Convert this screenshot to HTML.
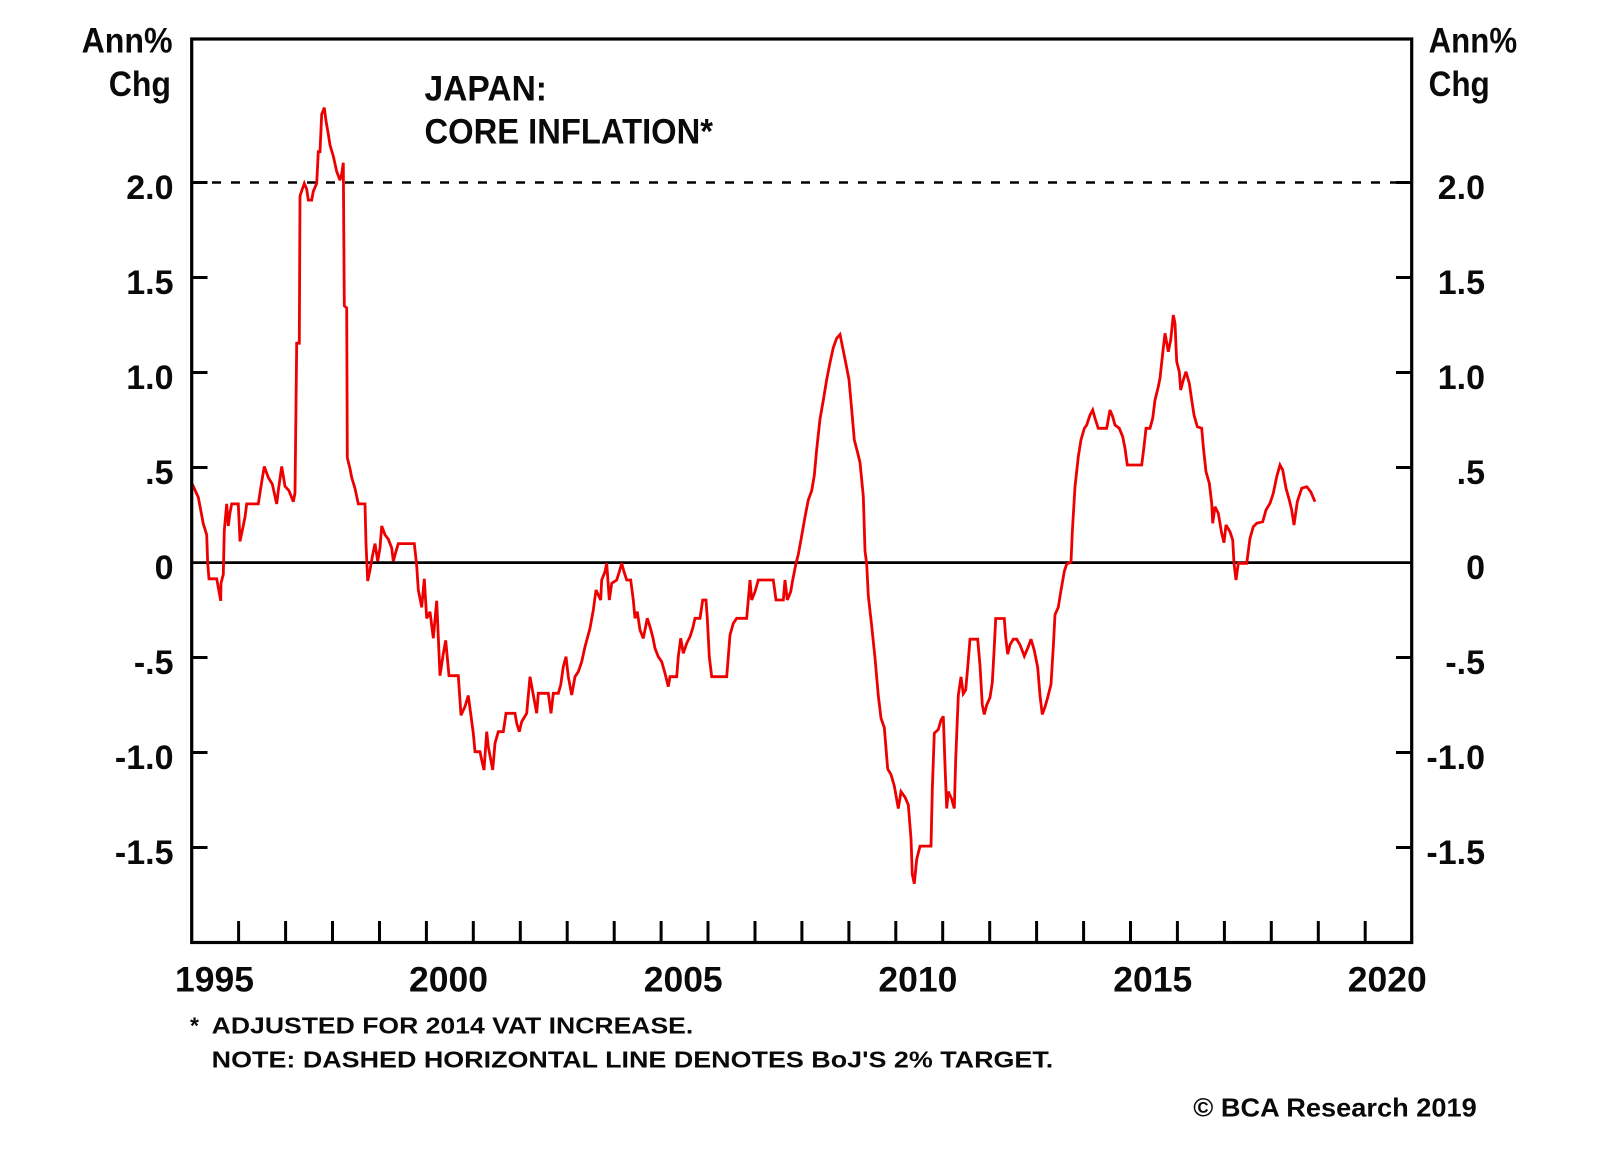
<!DOCTYPE html>
<html>
<head>
<meta charset="utf-8">
<style>
html,body{margin:0;padding:0;background:#fff;}
svg{display:block;}
text{font-family:"Liberation Sans",Arial,sans-serif;fill:#0a0a0a;}
.b{font-weight:bold;}
</style>
</head>
<body>
<svg width="1600" height="1152" viewBox="0 0 1600 1152" xmlns="http://www.w3.org/2000/svg">
<rect x="0" y="0" width="1600" height="1152" fill="#fff"/>

<!-- axis unit labels -->
<text class="b" x="81.6" y="52.5" font-size="35" textLength="91" lengthAdjust="spacingAndGlyphs">Ann%</text>
<text class="b" x="108.7" y="96" font-size="35" textLength="62.3" lengthAdjust="spacingAndGlyphs">Chg</text>
<text class="b" x="1428.6" y="52.5" font-size="35" textLength="88.5" lengthAdjust="spacingAndGlyphs">Ann%</text>
<text class="b" x="1428.6" y="96" font-size="35" textLength="61.2" lengthAdjust="spacingAndGlyphs">Chg</text>

<!-- title -->
<text class="b" x="424.5" y="100.4" font-size="35" textLength="122.5" lengthAdjust="spacingAndGlyphs">JAPAN:</text>
<text class="b" x="424.5" y="143.7" font-size="35" textLength="288.5" lengthAdjust="spacingAndGlyphs">CORE INFLATION*</text>

<!-- left tick labels -->
<g class="b" font-size="34" text-anchor="end">
<text x="173.5" y="199">2.0</text>
<text x="173.5" y="294">1.5</text>
<text x="173.5" y="389">1.0</text>
<text x="173.5" y="484">.5</text>
<text x="173.5" y="579">0</text>
<text x="173.5" y="674">-.5</text>
<text x="173.5" y="769">-1.0</text>
<text x="173.5" y="864">-1.5</text>
</g>
<!-- right tick labels -->
<g class="b" font-size="34" text-anchor="end">
<text x="1485" y="199">2.0</text>
<text x="1485" y="294">1.5</text>
<text x="1485" y="389">1.0</text>
<text x="1485" y="484">.5</text>
<text x="1485" y="579">0</text>
<text x="1485" y="674">-.5</text>
<text x="1485" y="769">-1.0</text>
<text x="1485" y="864">-1.5</text>
</g>

<!-- year labels -->
<g class="b" font-size="35.5" text-anchor="middle">
<text x="214.5" y="991.7">1995</text>
<text x="448.5" y="991.7">2000</text>
<text x="683.2" y="991.7">2005</text>
<text x="917.9" y="991.7">2010</text>
<text x="1152.8" y="991.7">2015</text>
<text x="1387.3" y="991.7">2020</text>
</g>

<!-- footnotes -->
<text class="b" x="190" y="1033.3" font-size="23">*</text>
<text class="b" x="211.7" y="1033.3" font-size="23" textLength="481.6" lengthAdjust="spacingAndGlyphs">ADJUSTED FOR 2014 VAT INCREASE.</text>
<text class="b" x="211.7" y="1067.7" font-size="23" textLength="841.6" lengthAdjust="spacingAndGlyphs">NOTE: DASHED HORIZONTAL LINE DENOTES BoJ'S 2% TARGET.</text>
<text class="b" x="1193.3" y="1116.7" font-size="26" textLength="283.4" lengthAdjust="spacingAndGlyphs">© BCA Research 2019</text>

<!-- dashed 2% line -->
<line x1="193" y1="182.5" x2="1410" y2="182.5" stroke="#000" stroke-width="2.5" stroke-dasharray="9 10"/>
<!-- zero line -->
<line x1="191.7" y1="562.6" x2="1411.7" y2="562.6" stroke="#000" stroke-width="2.8"/>

<!-- y ticks -->
<g stroke="#000" stroke-width="3">
<line x1="191.7" y1="182.5" x2="207.5" y2="182.5"/>
<line x1="191.7" y1="277.5" x2="207.5" y2="277.5"/>
<line x1="191.7" y1="372.5" x2="207.5" y2="372.5"/>
<line x1="191.7" y1="467.5" x2="207.5" y2="467.5"/>
<line x1="191.7" y1="657.5" x2="207.5" y2="657.5"/>
<line x1="191.7" y1="752.5" x2="207.5" y2="752.5"/>
<line x1="191.7" y1="847.5" x2="207.5" y2="847.5"/>
<line x1="1396" y1="182.5" x2="1411.7" y2="182.5"/>
<line x1="1396" y1="277.5" x2="1411.7" y2="277.5"/>
<line x1="1396" y1="372.5" x2="1411.7" y2="372.5"/>
<line x1="1396" y1="467.5" x2="1411.7" y2="467.5"/>
<line x1="1396" y1="657.5" x2="1411.7" y2="657.5"/>
<line x1="1396" y1="752.5" x2="1411.7" y2="752.5"/>
<line x1="1396" y1="847.5" x2="1411.7" y2="847.5"/>
</g>
<!-- x ticks -->
<g stroke="#000" stroke-width="3">
<line x1="238.6" y1="921" x2="238.6" y2="942.5"/>
<line x1="285.6" y1="921" x2="285.6" y2="942.5"/>
<line x1="332.5" y1="921" x2="332.5" y2="942.5"/>
<line x1="379.5" y1="921" x2="379.5" y2="942.5"/>
<line x1="426.4" y1="921" x2="426.4" y2="942.5"/>
<line x1="473.3" y1="921" x2="473.3" y2="942.5"/>
<line x1="520.3" y1="921" x2="520.3" y2="942.5"/>
<line x1="567.2" y1="921" x2="567.2" y2="942.5"/>
<line x1="614.2" y1="921" x2="614.2" y2="942.5"/>
<line x1="661.1" y1="921" x2="661.1" y2="942.5"/>
<line x1="708.0" y1="921" x2="708.0" y2="942.5"/>
<line x1="755.0" y1="921" x2="755.0" y2="942.5"/>
<line x1="801.9" y1="921" x2="801.9" y2="942.5"/>
<line x1="848.9" y1="921" x2="848.9" y2="942.5"/>
<line x1="895.8" y1="921" x2="895.8" y2="942.5"/>
<line x1="942.7" y1="921" x2="942.7" y2="942.5"/>
<line x1="989.7" y1="921" x2="989.7" y2="942.5"/>
<line x1="1036.6" y1="921" x2="1036.6" y2="942.5"/>
<line x1="1083.6" y1="921" x2="1083.6" y2="942.5"/>
<line x1="1130.5" y1="921" x2="1130.5" y2="942.5"/>
<line x1="1177.4" y1="921" x2="1177.4" y2="942.5"/>
<line x1="1224.4" y1="921" x2="1224.4" y2="942.5"/>
<line x1="1271.3" y1="921" x2="1271.3" y2="942.5"/>
<line x1="1318.3" y1="921" x2="1318.3" y2="942.5"/>
<line x1="1365.2" y1="921" x2="1365.2" y2="942.5"/>
</g>

<!-- data series -->
<polyline fill="none" stroke="#ee0000" stroke-width="2.8" stroke-linejoin="miter" stroke-miterlimit="3" points="
192,484 193.3,486.3 198.3,497.3 203.3,523.8 206.7,534.8 207.7,563.4 209,578.8 216.7,578.8 218.3,587.6 220.7,600.8 221,583.2 223.3,574.4 224.3,530.4 226.7,503.9 228.3,526 230,512.7 231.7,503.9 238.3,503.9 240,541.4 242.3,530.4 245,517.1 246.7,503.9 258.3,503.9 261.7,481.9 264.3,466.5 268.3,477.5 272.3,484.1 276.7,503.9 278.3,490.7 281.7,466.5 285,486.3 289,490.7 293.3,501.7 295,492.9 296.7,343.2 299.3,343.2 300,196 302.3,189.1 304.3,183.4 306.7,189.1 308.3,200.1 311.7,200.1 313.3,191.3 316.7,183.4 318.3,151.7 320,151.7 321.7,114.3 324.3,107.7 326,120.9 328.3,134.1 330,145.1 333.3,156.1 336.7,171.5 340,180.3 341.7,173.7 343.3,162.7 344.3,305.8 346.7,308 347.3,457.7 350,468.7 351.7,477.5 355,488.5 358.3,503.9 365,503.9 366,543.6 367.7,581 370,570 372.3,556.8 375,543.6 377.7,561.2 380,548 381.7,526 385,534.8 388.3,539.2 391.7,548 393.3,561.2 395.7,552.4 398.3,543.6 414.3,543.6 416.7,565.6 418.3,589.8 421.7,607.4 424.3,578.8 426.7,618.4 430,611.8 433.3,638.2 436.7,600.8 440,675.7 443.3,653.6 445.7,640.4 449,675.7 458.3,675.7 461,715.3 465,706.5 468.3,695.5
473.3,733.3 475,751.7 480,751.7 481.7,760 484,770 486.7,731.7 488.3,746.7 492.7,770 495,743.3 498.3,731.7 503.3,731.7 506,713.3 515,713.3 516.7,723.3 519.3,731.7 521.7,721.7 526.7,713.3 530,676.7 533.3,695 536.7,713.3 538.3,693.3 548.3,693.3 551,713.3 553.3,693.3 558.3,693.3 560.7,685 563.3,666.7 566,656.7 568.3,676.7 571.7,695 575,676.7 578.3,671.7 581.7,661.7 585,646.7 587.3,638.3 590,628.3 593.3,610 596,590 600.7,600 601.7,580 605,571.7 606.7,563.3 609.3,600 611.7,583.3 616.7,580 619.3,571.7 621.7,563.3 624,571.7 626.7,580 630.7,580 633.3,600 635,618.3 637.3,611.7 640,630 643.3,638.3 647.3,618.3 650,626.7 652.7,636.7 655,648.3 658.3,656.7 661.7,661.7 665,673.3 668.3,686.7 670,676.7 676.7,676.7 678.3,656.7 680.7,638.3 683.3,653.3 686.7,643.3 690,636.7 692.7,628.3 695,618.3 700,618.3 702.7,600 706,600 707.3,618.3 709.3,656.7 711.7,676.7 726.7,676.7 728.3,656.7 730,635 733.3,623.3 736.7,618.3 746.7,618.3 748.3,600 750,580 751.7,600 755,591.7 758.3,580 773.3,580 776,600 783.3,600 785,580 787.3,600 790.7,591.7 792.7,580 796,563.3
798.3,554.5 801.7,535.7 805,516.9 808.3,500 811.7,490.6 814.3,475.5 816.7,449.2 820,419.1 823.3,400.3 826.7,379.6 830,362.7 833.3,347.6 836.7,338.2 840,334.5 842.3,345.7 845.7,362.7 849,379.6 851.7,409.7 854.3,439.8 857.7,453 860,462.4 863.3,496.2 865,550.8 866.7,564 868.3,595.9 871.7,626 875,658 878.3,695.6 881,718.2 884.3,727.6 887.7,769 891,774.6 894.3,785.9 898.3,808.5 901,791.6 905,797.2 908.3,804.7 911,838.6 912.3,874.3 914.3,883.7 916.7,859.3 920,846.1 931,846.1 932.3,789.7 934.3,733.2 938.3,729.5 941,720.1 943.3,716.3 945,765.2 946.7,808.5 948.3,791.6 951.7,799.1 954.3,808.5 955.7,759.6 958.3,695.6 961,676.8 963.3,693.7 965.7,690 967.7,667.4 970,639.2 977.7,639.2 980,665.5 982.3,705 984.3,714.4 986.7,705 990,697.5 992.3,682.5 994.3,646.7 995.7,618.5 1004.3,618.5 1005.7,637.3 1007.7,654.2 1010,644.8 1013.3,639.2 1016.7,639.2 1020,644.8 1024.3,656.1 1028.3,646.7 1031,639.2 1034.3,650.5 1037.7,667.4 1040,695.6 1042.3,714.4 1045,706.9 1047.7,697.5 1051,684.3 1053.3,646.7 1055,614.7 1058.3,607.2 1061,590.3 1064.3,571.5 1066.7,564 1071,562.1 1072.3,532 1075,486.8 1078.3,456.7 1081,439.8 1084.3,428.5
1086.7,425 1090,415 1092.7,410 1095,418.3 1098.3,428.3 1106.7,428.3 1110,410 1112.7,416.7 1115,425 1119.3,428.3 1122.7,436.7 1125,448.3 1127.3,465 1141.7,465 1144,446.7 1146,428.3 1150,428.3 1152.7,418.3 1155,400 1158.3,386.7 1160,378.3 1162.7,353.3 1165,333.3 1168.3,351.7 1170.7,340 1173.3,315 1175,323.3 1176.7,361.7 1179.3,371.7 1180.7,390 1183.3,380 1186,371.7 1189.3,383.3 1191.7,400 1194,415 1197.3,426.7 1201.7,428.3 1203.3,446.7 1206,471.7 1209.3,483.3 1211.7,503.3 1212.7,523.3 1215,506.7 1218.3,513.3 1221.7,533.3 1224,542.7 1226,525 1230,531.7 1232.7,540 1234,563.3 1236,580 1238.3,563.3 1246.7,563.3 1250,538.3 1253.3,526.7 1256.7,523.3 1262.7,521.7 1266,510 1270,503.3 1273.3,493.3 1276.7,476.7 1280,465 1282.7,470 1286,488.3 1289.3,500 1291.7,510 1294,525 1297.3,501.7 1301.7,488.3 1306.7,486.7 1310.7,491.7 1315,501.7"/>

<!-- frame -->
<rect x="191.7" y="39" width="1220" height="903.5" fill="none" stroke="#000" stroke-width="3.2"/>
</svg>
</body>
</html>
